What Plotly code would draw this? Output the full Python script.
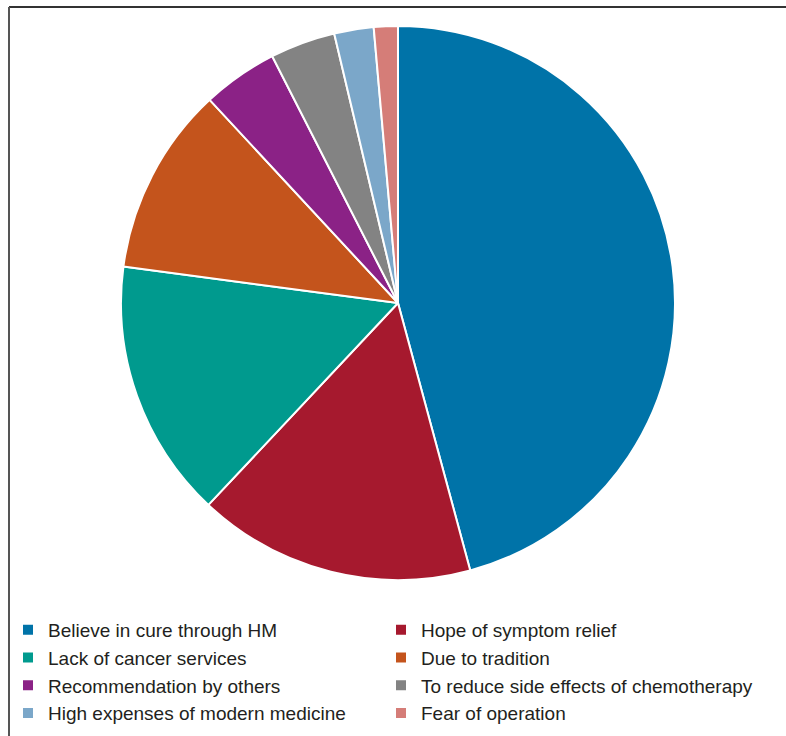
import plotly.graph_objects as go

categories = [
    "Believe in cure through HM",
    "Hope of symptom relief",
    "Lack of cancer services",
    "Due to tradition",
    "Recommendation by others",
    "To reduce side effects of chemotherapy",
    "High expenses of modern medicine",
    "Fear of operation",
]
values = [45.8, 16.2, 15.1, 11.0, 4.4, 3.8, 2.3, 1.4]
colors = ["#0073A8", "#A6192E", "#009A8E", "#C4541C", "#8B2286", "#838383", "#7BA7C9", "#D57D78"]

W, H = 786, 736
cx, cy, r = 398, 303, 277

fig = go.Figure(go.Pie(
    labels=categories,
    values=values,
    marker=dict(colors=colors, line=dict(color="white", width=2)),
    sort=False,
    direction="clockwise",
    rotation=0,
    textinfo="none",
    hoverinfo="label+percent",
    domain=dict(x=[(cx - r) / W, (cx + r) / W], y=[1 - (cy + r) / H, 1 - (cy - r) / H]),
))

fig.update_layout(
    width=W, height=H,
    margin=dict(l=0, r=0, t=0, b=0, autoexpand=False),
    paper_bgcolor="white",
    plot_bgcolor="white",
    font=dict(family="Liberation Sans, Arial, sans-serif", color="#231F20"),
    showlegend=True,
    legend=dict(
        orientation="h",
        xref="container", yref="container",
        x=8 / W, xanchor="left",
        y=1 - 611 / H, yanchor="top",
        font=dict(size=19, color="#231F20"),
        entrywidth=328, entrywidthmode="pixels",
        traceorder="normal",
        bgcolor="rgba(0,0,0,0)",
    ),
    shapes=[
        dict(type="line", xref="paper", yref="paper", x0=9 / W, x1=1, y0=1 - 7 / H, y1=1 - 7 / H,
             line=dict(color="#333333", width=2)),
        dict(type="line", xref="paper", yref="paper", x0=9 / W, x1=9 / W, y0=0, y1=1 - 7 / H,
             line=dict(color="#555555", width=2)),
    ],
)

fig.write_html("out.html")
